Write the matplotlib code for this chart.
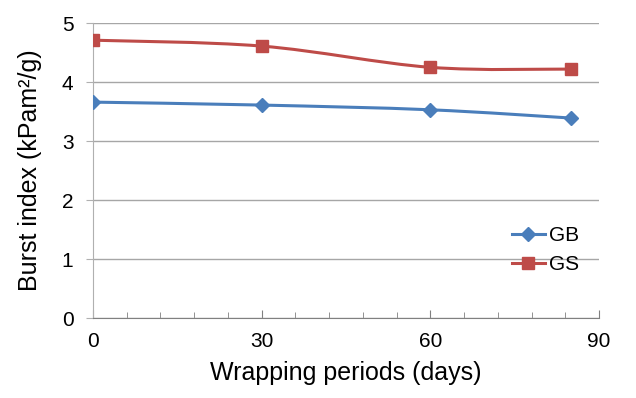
import numpy as np
import matplotlib.pyplot as plt
from matplotlib.path import Path
from matplotlib.patches import PathPatch
from matplotlib.lines import Line2D

days = [0, 30, 60, 85]
gb = [3.66, 3.61, 3.53, 3.39]
gs = [4.71, 4.61, 4.25, 4.22]

plt.rcParams['font.family'] = ['Liberation Sans', 'DejaVu Sans']


def smooth_path(xs, ys):
    # catmull-rom style bezier through the points, like excel smooth lines
    pts = np.column_stack([xs, ys]).astype(float)
    verts = [pts[0]]
    codes = [Path.MOVETO]
    n = len(pts)
    for i in range(n - 1):
        p0 = pts[max(i - 1, 0)]
        p1 = pts[i]
        p2 = pts[i + 1]
        p3 = pts[min(i + 2, n - 1)]
        c1 = p1 + (p2 - p0) / 6.0
        c2 = p2 - (p3 - p1) / 6.0
        verts += [c1, c2, p2]
        codes += [Path.CURVE4] * 3
    return Path(verts, codes)


fig = plt.figure(figsize=(6.36, 3.98), dpi=100)
ax = fig.add_axes([0.146, 0.201, 0.796, 0.741])

series = [(gb, '#4a7ebb', 'D', 7, 'GB'), (gs, '#be4b48', 's', 8, 'GS')]
handles = []
for vals, col, mk, ms, lab in series:
    ax.add_patch(PathPatch(smooth_path(days, vals), facecolor='none',
                           edgecolor=col, lw=2.2, zorder=3))
    ax.plot(days, vals, linestyle='none', marker=mk, ms=ms, color=col, zorder=4)
    handles.append(Line2D([], [], color=col, lw=2.2, marker=mk, ms=ms, label=lab))

ax.set_xlim(0, 90)
ax.set_ylim(0, 5)
ax.set_xticks([0, 30, 60, 90])
ax.set_xticks(np.arange(0, 91, 6), minor=True)
ax.set_yticks(range(0, 6))
ax.yaxis.grid(True, color='#a6a6a6', lw=1)
ax.set_axisbelow(True)

for s in ['top', 'right']:
    ax.spines[s].set_visible(False)
ax.spines['left'].set_color('#b0b0b0')
ax.spines['bottom'].set_color('#808080')
ax.tick_params(axis='x', direction='in', length=6, color='#808080',
               labelsize=15, pad=10)
ax.tick_params(axis='x', which='minor', direction='in', length=4, color='#808080')
ax.tick_params(axis='y', direction='out', length=5, color='#b0b0b0',
               labelsize=15, pad=9)

ax.set_xlabel('Wrapping periods (days)', fontsize=18, labelpad=7)
ax.set_ylabel('Burst index (kPam²/g)', fontsize=18, labelpad=14)

ax.legend(handles=handles, loc='center left', bbox_to_anchor=(0.79, 0.23),
          frameon=False, fontsize=15, handlelength=1.6, handletextpad=0.2,
          labelspacing=0.5)

fig.savefig('out.png', dpi=100)
